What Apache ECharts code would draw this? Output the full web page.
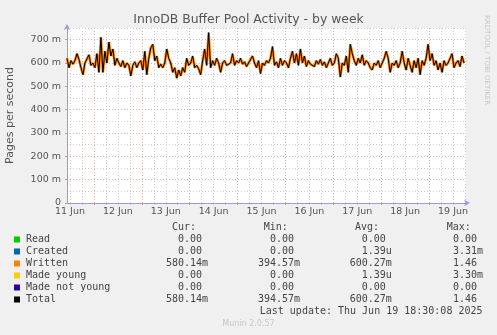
<!DOCTYPE html>
<html><head><meta charset="utf-8">
<script src="https://cdn.jsdelivr.net/npm/echarts@6/dist/echarts.min.js"></script>
<style>html,body{margin:0;padding:0;background:#f0f0f0}#c{width:497px;height:335px}</style>
</head><body><div id="c"></div>
<script>
// Hourly samples (milli-pages per second), starting Wed 11 Jun 10:30
const writtenValues = [
 620,580,610,595,610,640,615,580,550,600,
 600,635,590,600,580,640,560,710,560,650,
 600,690,630,660,590,620,600,585,610,580,
 600,590,545,590,605,580,600,610,570,650,
 550,620,665,680,610,630,580,595,580,600,
 660,620,600,560,580,535,570,545,580,560,
 620,590,600,630,580,590,575,550,610,660,
 590,730,580,610,590,620,600,560,600,610,
 590,585,600,640,590,610,600,620,595,605,
 585,600,595,630,600,580,610,555,600,590,
 610,600,620,670,590,605,580,620,590,610,
 600,580,620,650,600,640,590,660,600,630,
 585,610,595,600,585,610,595,615,590,605,
 580,600,620,590,600,640,620,540,600,590,
 630,560,680,640,610,590,620,600,635,590,
 610,600,580,570,600,590,610,580,600,620,
 650,620,560,600,590,610,580,600,650,600,
 570,620,590,560,610,580,620,550,610,590,
 620,680,610,640,590,610,570,600,560,610,
 590,600,620,640,580,600,610,585,630,600
];
const totalValues = writtenValues.slice();
const dayLabels = ['11 Jun','12 Jun','13 Jun','14 Jun','15 Jun','16 Jun','17 Jun','18 Jun','19 Jun'];
const firstNoonHour = 1.5;      // hours after start of window
const windowHours = 200;
const yTickValues = [0,100,200,300,400,500,600,700];

const legendNames = ['Read','Created','Written','Made young','Made not young','Total'];
const legendColors = ['#00cc00','#0066b3','#ff8000','#ffcc00','#330099','#000000'];
const legendCur = ['0.00 ','0.00 ','580.14m','0.00 ','0.00 ','580.14m'];
const legendMin = ['0.00 ','0.00 ','394.57m','0.00 ','0.00 ','394.57m'];
const legendAvg = ['0.00 ','1.39u','600.27m','1.39u','0.00 ','600.27m'];
const legendMax = ['0.00 ','3.31m','1.46 ','3.30m','0.00 ','1.46 '];
const lastUpdate = 'Last update: Thu Jun 19 18:30:08 2025';

const noonHours = dayLabels.map((d,i)=>firstNoonHour + 24*i);
const midnightHours = [];
for (let h = firstNoonHour + 12; h < windowHours; h += 24) midnightHours.push(h);
const sixHours = [];
for (let h = firstNoonHour; h < windowHours; h += 6) sixHours.push(h);

const pad = (s,n)=> (' '.repeat(n) + s).slice(-n);
const mono = '10px "DejaVu Sans Mono"';
const txtCol = '#444';
const graphics = [];
graphics.push({type:'text', x:248.5, y:19.5, style:{text:'InnoDB Buffer Pool Activity - by week', font:'12.4px "DejaVu Sans"', fill:'#555', align:'center', verticalAlign:'middle', textAlign:'center', textVerticalAlign:'middle'}});
graphics.push({type:'text', x:487, y:15, rotation:-Math.PI/2, style:{text:'RRDTOOL / TOBI OETIKER', font:'7px "DejaVu Sans"', fill:'#c8c8c8', align:'left', verticalAlign:'middle', textAlign:'left', textVerticalAlign:'middle'}});
graphics.push({type:'text', x:248.5, y:324, style:{text:'Munin 2.0.57', font:'8px "DejaVu Sans"', fill:'#c8c8c8', align:'center', verticalAlign:'middle', textAlign:'center', textVerticalAlign:'middle'}});
const hdrY = 227.5;
[['Cur:',172],['Min:',263.7],['Avg:',355],['Max:',446.7]].forEach(([t,x])=>{
  graphics.push({type:'text', x:x, y:hdrY, style:{text:t, font:mono, fill:txtCol, align:'left', verticalAlign:'middle', textAlign:'left', textVerticalAlign:'middle'}});
});
legendNames.forEach((n,i)=>{
  const y = 239.5 + 12*i;
  graphics.push({type:'rect', shape:{x:14, y:y-3, width:6, height:6}, style:{fill:legendColors[i]}});
  graphics.push({type:'text', x:26, y:y, style:{text:n, font:mono, fill:txtCol, align:'left', verticalAlign:'middle', textAlign:'left', textVerticalAlign:'middle'}});
  [[legendCur,208],[legendMin,300],[legendAvg,391.7],[legendMax,483]].forEach(([arr,xe])=>{
    graphics.push({type:'text', x:xe-42, y:y, style:{text:pad(arr[i],7), font:mono, fill:txtCol, align:'left', verticalAlign:'middle', textAlign:'left', textVerticalAlign:'middle'}});
  });
});
graphics.push({type:'text', x:482.5, y:311.5, style:{text:lastUpdate, font:mono, fill:txtCol, align:'right', verticalAlign:'middle', textAlign:'right', textVerticalAlign:'middle'}});

const axisCol = '#9a9ae0';
const redGrid = '#e9b0b0';
const grayGrid = '#d0d0d0';
const chart = echarts.init(document.getElementById('c'), null, {renderer:'canvas'});
chart.setOption({
  animation:false,
  backgroundColor:'#f0f0f0',
  grid:{left:67, right:31, top:28, bottom:132, show:true, backgroundColor:'#ffffff', borderWidth:0,
        containLabel:false, outerBoundsMode:'none'},
  xAxis:[
    {type:'value', min:0, max:windowHours, position:'bottom', z:4,
     axisLine:{show:true, onZero:false, lineStyle:{color:axisCol, width:1}, symbol:['none','arrow'], symbolSize:[5,6], symbolOffset:[0,4]},
     axisTick:{show:true, customValues:midnightHours, length:2, lineStyle:{color:'#e08888'}},
     axisLabel:{show:true, customValues:noonHours, color:'#555', fontSize:9.5, fontFamily:'DejaVu Sans', margin:4,
       formatter:(v)=>dayLabels[Math.round((v-firstNoonHour)/24)] || ''},
     splitLine:{show:true, lineStyle:{color:redGrid, width:1, type:[1,2]}}},
    {type:'value', min:0, max:windowHours, position:'bottom', z:3,
     axisLine:{show:false}, axisLabel:{show:false},
     axisTick:{show:true, customValues:sixHours, length:2, lineStyle:{color:'#cccccc'}},
     splitLine:{show:true, lineStyle:{color:grayGrid, width:1, type:[1,2]}}}
  ],
  yAxis:[
    {type:'value', min:0, max:750, z:4,
     name:'Pages per second', nameLocation:'middle', nameGap:51, nameRotate:90,
     nameTextStyle:{color:'#555', fontSize:11, fontFamily:'DejaVu Sans'},
     axisLine:{show:true, onZero:false, lineStyle:{color:axisCol, width:1}, symbol:['none','arrow'], symbolSize:[5,6], symbolOffset:[0,4]},
     axisTick:{show:true, customValues:yTickValues, length:2, lineStyle:{color:'#e08888'}},
     axisLabel:{show:true, customValues:yTickValues, color:'#555', fontSize:9.5, fontFamily:'DejaVu Sans', margin:6,
       formatter:(v)=> v===0 ? '0' : v+' m'},
     splitLine:{show:true, lineStyle:{color:redGrid, width:1, type:[1,2]}}},
    {type:'value', min:0, max:750, interval:50, z:3,
     axisLine:{show:false}, axisLabel:{show:false}, axisTick:{show:false},
     splitLine:{show:true, lineStyle:{color:grayGrid, width:1, type:[1,2]}}}
  ],
  graphic:graphics,
  series:[
    {name:'Written', type:'line', xAxisIndex:0, yAxisIndex:0, showSymbol:false, z:5,
     data:writtenValues.map((v,i)=>[i,v]), lineStyle:{color:'#ff8000', width:2.6}},
    {name:'Total', type:'line', xAxisIndex:0, yAxisIndex:0, showSymbol:false, z:6,
     data:totalValues.map((v,i)=>[i,v]), lineStyle:{color:'#000000', width:1}}
  ]
});
</script></body></html>
